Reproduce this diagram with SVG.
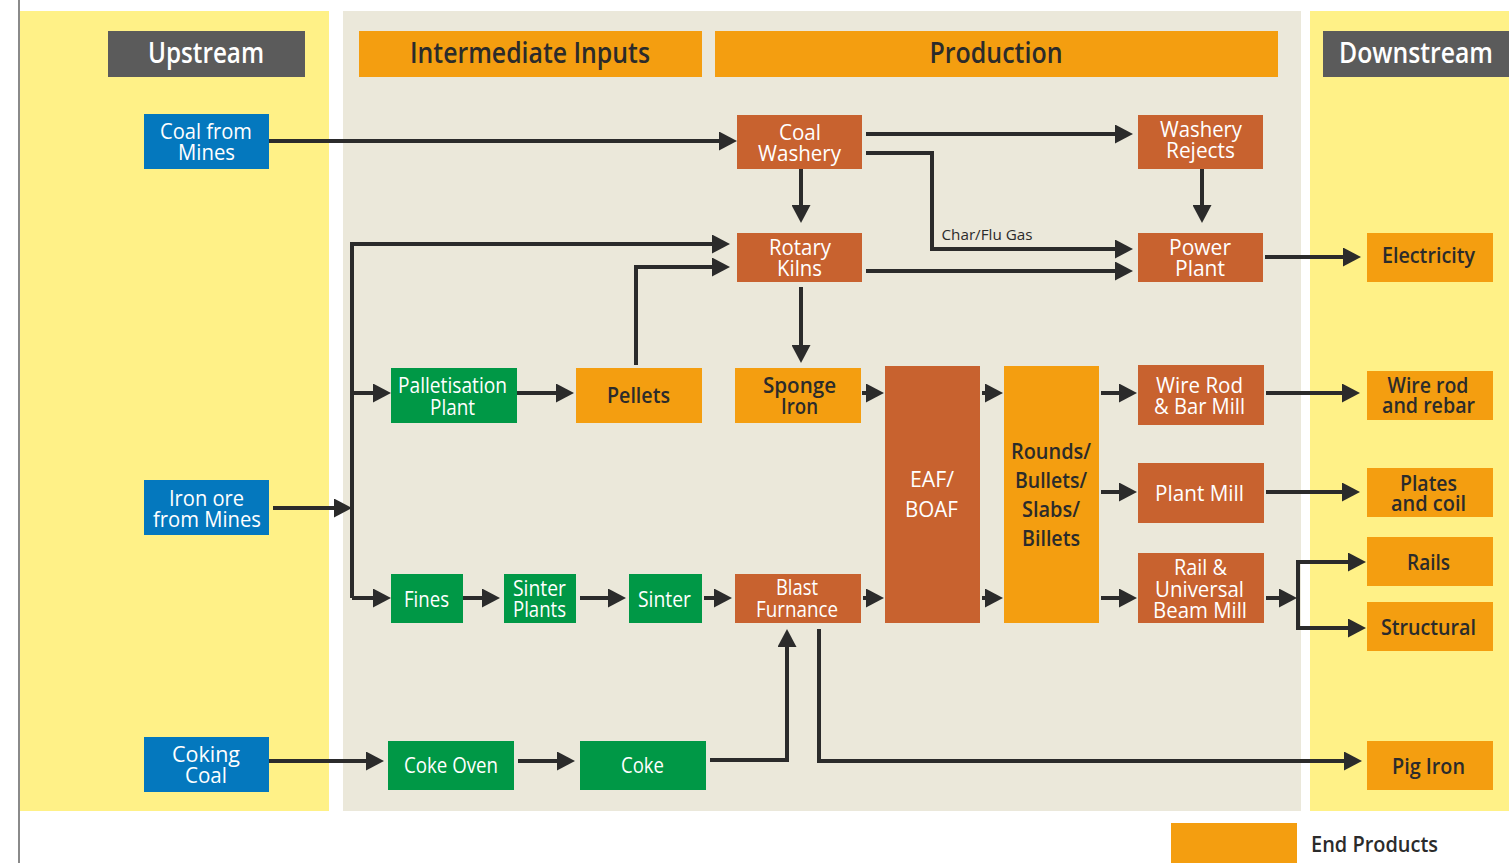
<svg xmlns="http://www.w3.org/2000/svg" width="1509" height="863" viewBox="0 0 1509 863">
<style>
text{font-family:"Open Sans","Noto Sans","Liberation Sans",sans-serif;text-anchor:middle}
.w{fill:#ffffff}
.d{fill:#2b2b2b;font-weight:600}
.n{font-size:21px}
.h{font-size:28px;font-weight:600}
.blue{fill:#0478be}
.brown{fill:#c8622f}
.green{fill:#009846}
.orange{fill:#f49e10}
.dark{fill:#5b5b5b}
.c{fill:none;stroke:#2b2b2b;stroke-width:4;marker-end:url(#ah)}
.cn{fill:none;stroke:#2b2b2b;stroke-width:4}
</style>
<defs>
<marker id="ah" viewBox="0 0 18 19" refX="9" refY="9.5" markerWidth="18" markerHeight="19" markerUnits="userSpaceOnUse" orient="auto">
<path d="M0,0 L18,9.5 L0,19 Z" fill="#2b2b2b"/>
</marker>
</defs>
<rect x="0" y="0" width="1509" height="863" fill="#ffffff"/>
<line x1="19" y1="0" x2="19" y2="863" stroke="#8a8a8a" stroke-width="2"/>
<g id="panels">
<rect x="20" y="11" width="309" height="800" fill="#fff187"/>
<rect x="343" y="11" width="958" height="800" fill="#ebe8da"/>
<rect x="1310" y="11" width="199" height="800" fill="#fff187"/>
</g>
<g id="headers">
<g id="h-upstream"><rect class="dark" x="108" y="31" width="197" height="46"/><text class="w h" x="206" y="63" textLength="116" lengthAdjust="spacingAndGlyphs">Upstream</text></g>
<g id="h-intermediate"><rect class="orange" x="359" y="31" width="343" height="46"/><text class="d h" x="530" y="63" textLength="240" lengthAdjust="spacingAndGlyphs">Intermediate Inputs</text></g>
<g id="h-production"><rect class="orange" x="715" y="31" width="563" height="46"/><text class="d h" x="996" y="63" textLength="133" lengthAdjust="spacingAndGlyphs">Production</text></g>
<g id="h-downstream"><rect class="dark" x="1323" y="31" width="186" height="46"/><text class="w h" x="1416" y="63" textLength="154" lengthAdjust="spacingAndGlyphs">Downstream</text></g>
</g>
<g id="connectors">
<path class="c" d="M269,141 H728"/>
<path class="c" d="M866,134 H1124"/>
<path class="c" d="M866,153 H932 V249 H1124"/>
<path class="c" d="M801,169 V214"/>
<path class="c" d="M1202,169 V214"/>
<path class="c" d="M866,271 H1124"/>
<path class="c" d="M1265,257 H1352"/>
<path class="c" d="M801,287 V354"/>
<path class="c" d="M273,508 H343"/>
<path class="cn" d="M352,598 V244"/>
<path class="c" d="M350,244 H721"/>
<path class="c" d="M352,393 H382"/>
<path class="c" d="M352,598 H382"/>
<path class="c" d="M636,365 V267 H721"/>
<path class="c" d="M517,393 H565"/>
<path class="c" d="M463,598 H491"/>
<path class="c" d="M580,598 H617"/>
<path class="c" d="M704,598 H723"/>
<path class="c" d="M862,393 H875"/>
<path class="c" d="M863,598 H875"/>
<path class="c" d="M982,393 H994"/>
<path class="c" d="M982,598 H994"/>
<path class="c" d="M1101,393 H1128"/>
<path class="c" d="M1101,492 H1128"/>
<path class="c" d="M1101,598 H1128"/>
<path class="c" d="M1266,393 H1351"/>
<path class="c" d="M1266,492 H1351"/>
<path class="c" d="M1266,598 H1288"/>
<path class="cn" d="M1298,560 V630"/>
<path class="c" d="M1296,562 H1357"/>
<path class="c" d="M1296,628 H1357"/>
<path class="c" d="M269,761 H375"/>
<path class="c" d="M518,761 H566"/>
<path class="c" d="M710,760 H787 V638"/>
<path class="c" d="M819,629 V761 H1353"/>
<text x="987" y="240" style="font-size:14px;fill:#2b2b2b;font-weight:500" textLength="91" lengthAdjust="spacingAndGlyphs">Char/Flu Gas</text>
</g>
<g id="coal-from-mines"><rect class="blue" x="144" y="114" width="125" height="55"/><text class="w n" x="206" y="139" textLength="92" lengthAdjust="spacingAndGlyphs">Coal from</text><text class="w n" x="206.5" y="160" textLength="57" lengthAdjust="spacingAndGlyphs">Mines</text></g>
<g id="iron-ore"><rect class="blue" x="144" y="480" width="125" height="55"/><text class="w n" x="206.5" y="506" textLength="75" lengthAdjust="spacingAndGlyphs">Iron ore</text><text class="w n" x="207" y="527" textLength="108" lengthAdjust="spacingAndGlyphs">from Mines</text></g>
<g id="coking-coal"><rect class="blue" x="144" y="737" width="125" height="55"/><text class="w n" x="206" y="762" textLength="68" lengthAdjust="spacingAndGlyphs">Coking</text><text class="w n" x="206" y="783" textLength="42" lengthAdjust="spacingAndGlyphs">Coal</text></g>
<g id="coal-washery"><rect class="brown" x="737" y="115" width="125" height="54"/><text class="w n" x="800" y="140" textLength="42" lengthAdjust="spacingAndGlyphs">Coal</text><text class="w n" x="799.5" y="161" textLength="83" lengthAdjust="spacingAndGlyphs">Washery</text></g>
<g id="washery-rejects"><rect class="brown" x="1138" y="115" width="125" height="54"/><text class="w n" x="1201" y="137" textLength="82" lengthAdjust="spacingAndGlyphs">Washery</text><text class="w n" x="1200.5" y="158" textLength="69" lengthAdjust="spacingAndGlyphs">Rejects</text></g>
<g id="rotary-kilns"><rect class="brown" x="737" y="233" width="125" height="49"/><text class="w n" x="800" y="255" textLength="62" lengthAdjust="spacingAndGlyphs">Rotary</text><text class="w n" x="799.5" y="276" textLength="45" lengthAdjust="spacingAndGlyphs">Kilns</text></g>
<g id="power-plant"><rect class="brown" x="1138" y="233" width="125" height="49"/><text class="w n" x="1200" y="255" textLength="62" lengthAdjust="spacingAndGlyphs">Power</text><text class="w n" x="1200" y="276" textLength="50" lengthAdjust="spacingAndGlyphs">Plant</text></g>
<g id="electricity"><rect class="orange" x="1367" y="233" width="126" height="49"/><text class="d n" x="1428.5" y="263" textLength="93" lengthAdjust="spacingAndGlyphs">Electricity</text></g>
<g id="palletisation-plant"><rect class="green" x="391" y="368" width="126" height="55"/><text class="w n" x="452.5" y="393" textLength="109" lengthAdjust="spacingAndGlyphs">Palletisation</text><text class="w n" x="452.5" y="415" textLength="45" lengthAdjust="spacingAndGlyphs">Plant</text></g>
<g id="pellets"><rect class="orange" x="576" y="368" width="126" height="55"/><text class="d" style="font-size:22px" x="638.5" y="403" textLength="63" lengthAdjust="spacingAndGlyphs">Pellets</text></g>
<g id="sponge-iron"><rect class="orange" x="735" y="368" width="126" height="55"/><text class="d n" x="799.5" y="393" textLength="73" lengthAdjust="spacingAndGlyphs">Sponge</text><text class="d n" x="799.5" y="414" textLength="37" lengthAdjust="spacingAndGlyphs">Iron</text></g>
<g id="eaf-boaf"><rect class="brown" x="885" y="366" width="95" height="257"/><text class="w n" x="932" y="487" textLength="44" lengthAdjust="spacingAndGlyphs">EAF/</text><text class="w n" x="931.5" y="517" textLength="53" lengthAdjust="spacingAndGlyphs">BOAF</text></g>
<g id="rounds-bullets"><rect class="orange" x="1004" y="366" width="95" height="257"/><text class="d n" x="1051" y="459" textLength="80" lengthAdjust="spacingAndGlyphs">Rounds/</text><text class="d n" x="1051" y="488" textLength="72" lengthAdjust="spacingAndGlyphs">Bullets/</text><text class="d n" x="1051" y="517" textLength="58" lengthAdjust="spacingAndGlyphs">Slabs/</text><text class="d n" x="1051" y="546" textLength="58" lengthAdjust="spacingAndGlyphs">Billets</text></g>
<g id="wire-rod-mill"><rect class="brown" x="1138" y="365" width="126" height="60"/><text class="w n" x="1199.5" y="393" textLength="87" lengthAdjust="spacingAndGlyphs">Wire Rod</text><text class="w n" x="1199.5" y="414" textLength="91" lengthAdjust="spacingAndGlyphs">&amp; Bar Mill</text></g>
<g id="plant-mill"><rect class="brown" x="1138" y="463" width="126" height="60"/><text class="w n" x="1199.5" y="501" textLength="89" lengthAdjust="spacingAndGlyphs">Plant Mill</text></g>
<g id="rail-mill"><rect class="brown" x="1138" y="553" width="126" height="70"/><text class="w n" x="1200.5" y="575" textLength="53" lengthAdjust="spacingAndGlyphs">Rail &amp;</text><text class="w n" x="1199.5" y="597" textLength="89" lengthAdjust="spacingAndGlyphs">Universal</text><text class="w n" x="1200" y="618" textLength="94" lengthAdjust="spacingAndGlyphs">Beam Mill</text></g>
<g id="wire-rod-rebar"><rect class="orange" x="1367" y="371" width="126" height="49"/><text class="d n" x="1428" y="393" textLength="81" lengthAdjust="spacingAndGlyphs">Wire rod</text><text class="d n" x="1428.5" y="413" textLength="93" lengthAdjust="spacingAndGlyphs">and rebar</text></g>
<g id="plates-coil"><rect class="orange" x="1367" y="468" width="126" height="49"/><text class="d n" x="1428.5" y="491" textLength="57" lengthAdjust="spacingAndGlyphs">Plates</text><text class="d n" x="1428.5" y="511" textLength="75" lengthAdjust="spacingAndGlyphs">and coil</text></g>
<g id="rails"><rect class="orange" x="1367" y="537" width="126" height="49"/><text class="d n" x="1428.5" y="570" textLength="43" lengthAdjust="spacingAndGlyphs">Rails</text></g>
<g id="structural"><rect class="orange" x="1367" y="602" width="126" height="49"/><text class="d n" x="1428.5" y="635" textLength="95" lengthAdjust="spacingAndGlyphs">Structural</text></g>
<g id="fines"><rect class="green" x="391" y="574" width="72" height="49"/><text class="w n" x="426.5" y="607" textLength="45" lengthAdjust="spacingAndGlyphs">Fines</text></g>
<g id="sinter-plants"><rect class="green" x="504" y="574" width="72" height="49"/><text class="w n" x="539.5" y="596" textLength="53" lengthAdjust="spacingAndGlyphs">Sinter</text><text class="w n" x="539.5" y="617" textLength="53" lengthAdjust="spacingAndGlyphs">Plants</text></g>
<g id="sinter"><rect class="green" x="629" y="574" width="73" height="49"/><text class="w n" x="664.5" y="607" textLength="53" lengthAdjust="spacingAndGlyphs">Sinter</text></g>
<g id="blast-furnace"><rect class="brown" x="735" y="574" width="126" height="49"/><text class="w n" x="797" y="595" textLength="42" lengthAdjust="spacingAndGlyphs">Blast</text><text class="w n" x="797" y="617" textLength="82" lengthAdjust="spacingAndGlyphs">Furnance</text></g>
<g id="coke-oven"><rect class="green" x="388" y="741" width="126" height="49"/><text class="w n" x="451" y="773" textLength="94" lengthAdjust="spacingAndGlyphs">Coke Oven</text></g>
<g id="coke"><rect class="green" x="580" y="741" width="126" height="49"/><text class="w n" x="642.5" y="773" textLength="43" lengthAdjust="spacingAndGlyphs">Coke</text></g>
<g id="pig-iron"><rect class="orange" x="1367" y="741" width="126" height="49"/><text class="d" style="font-size:22px" x="1428.5" y="774" textLength="73" lengthAdjust="spacingAndGlyphs">Pig Iron</text></g>
<g id="legend"><rect class="orange" x="1171" y="823" width="126" height="40"/><text class="d n" x="1374.5" y="852" textLength="127" lengthAdjust="spacingAndGlyphs">End Products</text></g>
</svg>
